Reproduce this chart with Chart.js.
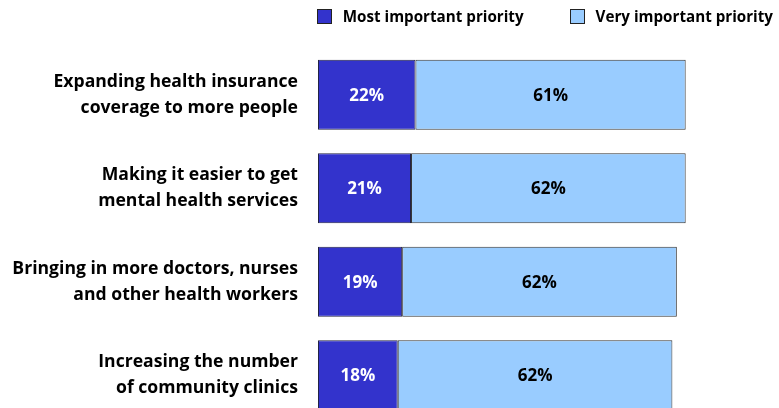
<!DOCTYPE html>
<html lang="en">
<head>
  <meta charset="UTF-8">
  <title>Health Priorities</title>
  <script src="https://cdn.jsdelivr.net/npm/chart.js"></script>
  <style>
    html, body {
      margin: 0;
      padding: 0;
      background: #ffffff;
      overflow: hidden;
      font-family: "Open Sans", sans-serif;
    }
    #wrap {
      position: relative;
      width: 779px;
      height: 468px;
    }
    #legend {
      position: absolute;
      top: 6px;
      right: 6px;
      display: flex;
      align-items: center;
      font-weight: bold;
      font-size: 15.2px;
      color: #000;
    }
    .item {
      display: flex;
      align-items: center;
    }
    .item + .item {
      margin-left: 46px;
    }
    .swatch {
      width: 13px;
      height: 13px;
      border: 1px solid #222;
      margin-right: 11px;
    }
  </style>
</head>
<body>

  <div id="wrap">
    <div id="legend"></div>
    <canvas id="priorityChart" width="779" height="468"></canvas>
  </div>

  <script>
    const categories = [
      ['Expanding health insurance', 'coverage to more people'],
      ['Making it easier to get', 'mental health services'],
      ['Bringing in more doctors, nurses', 'and other health workers'],
      ['Increasing the number', 'of community clinics']
    ];
    const seriesNames = ['Most important priority', 'Very important priority'];
    const mostImportant = [22, 21, 19, 18];
    const veryImportant = [61, 62, 62, 62];

    const colors = ['#3333cc', '#99ccff'];
    const labelColors = ['#ffffff', '#000000'];

    // legend row above the plot
    const legendEl = document.getElementById('legend');
    seriesNames.forEach((name, i) => {
      const item = document.createElement('div');
      item.className = 'item';
      item.innerHTML = '<span class="swatch" style="background:' + colors[i] + '"></span><span>' + name + '</span>';
      legendEl.appendChild(item);
    });

    // value labels centred in each bar segment
    const barLabels = {
      id: 'barLabels',
      afterDatasetsDraw(chart) {
        const ctx = chart.ctx;
        ctx.save();
        ctx.font = 'bold 17px "Open Sans", sans-serif';
        ctx.textAlign = 'center';
        ctx.textBaseline = 'middle';
        chart.data.datasets.forEach((ds, di) => {
          const meta = chart.getDatasetMeta(di);
          ctx.fillStyle = labelColors[di];
          meta.data.forEach((bar, i) => {
            const p = bar.getProps(['x', 'y', 'base'], true);
            ctx.fillText(ds.data[i] + '%', (p.x + p.base) / 2, p.y + 1);
          });
        });
        ctx.restore();
      }
    };

    new Chart(document.getElementById('priorityChart'), {
      type: 'bar',
      data: {
        labels: categories,
        datasets: [
          {
            label: seriesNames[0],
            data: mostImportant,
            backgroundColor: colors[0],
            borderColor: '#222244',
            borderWidth: 1,
            borderSkipped: false,
            barPercentage: 0.75,
            categoryPercentage: 1
          },
          {
            label: seriesNames[1],
            data: veryImportant,
            backgroundColor: colors[1],
            borderColor: '#333333',
            borderWidth: 1,
            borderSkipped: false,
            barPercentage: 0.75,
            categoryPercentage: 1
          }
        ]
      },
      options: {
        indexAxis: 'y',
        responsive: false,
        animation: false,
        layout: {
          padding: { top: 48, right: 18, bottom: 17, left: 0 }
        },
        scales: {
          x: {
            stacked: true,
            min: 0,
            max: 100,
            display: false
          },
          y: {
            stacked: true,
            grid: { display: false, drawTicks: false },
            border: { display: false },
            afterFit(scale) { scale.width = 318; },
            ticks: {
              padding: 20,
              color: '#000',
              font: { family: '"Open Sans"', weight: 'bold', size: 17.6, lineHeight: 1.48 }
            }
          }
        },
        plugins: {
          legend: { display: false },
          tooltip: { enabled: false }
        }
      },
      plugins: [barLabels]
    });
  </script>

</body>
</html>
